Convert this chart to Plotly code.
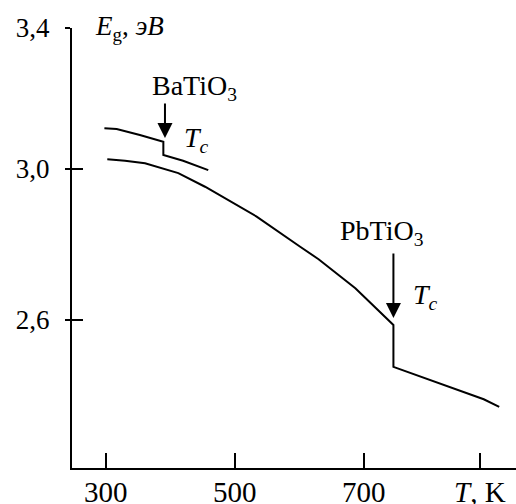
import plotly.graph_objects as go

# BaTiO3 curve (with step at Tc)
ba_T = [298, 317, 353, 389.4, 389.4, 420, 459]
ba_E = [3.108, 3.106, 3.090, 3.072, 3.037, 3.022, 2.997]

# PbTiO3 curve (with step at Tc)
pb_T = [302.5, 330, 361, 412.6, 454, 485, 534, 601.5, 630, 687, 746, 746, 886, 910]
pb_E = [3.0257, 3.022, 3.015, 2.989, 2.953, 2.922, 2.874, 2.794, 2.761, 2.684, 2.587, 2.476, 2.390, 2.370]

x_tickvals = [300, 500, 700, 880]
x_ticktext = ["300", "500", "700", "<i>T</i>, K"]
y_tickvals = [2.6, 3.0, 3.3735]
y_ticktext = ["2,6", "3,0", "3,4"]

x_range = [247.8, 936]
y_range = [2.208, 3.3735]

FONT = "Liberation Serif"

fig = go.Figure()
fig.add_trace(go.Scatter(x=pb_T, y=pb_E, mode="lines",
                         line=dict(color="black", width=2), hoverinfo="skip",
                         showlegend=False))
fig.add_trace(go.Scatter(x=ba_T, y=ba_E, mode="lines", yaxis="y2",
                         line=dict(color="black", width=2), hoverinfo="skip",
                         showlegend=False))

annos = [
    dict(x=391.9, y=3.082, ax=0, ay=-36, text="", showarrow=True,
         arrowhead=2, arrowsize=1.5, arrowwidth=2, arrowcolor="black", standoff=0),
    dict(x=746, y=2.605, ax=0, ay=-66, text="", showarrow=True,
         arrowhead=2, arrowsize=1.5, arrowwidth=2, arrowcolor="black", standoff=0),
    dict(x=438.4, y=3.2146, text="BaTiO<sub>3</sub>", showarrow=False,
         font=dict(family=FONT, size=28, color="black")),
    dict(x=440.8, y=3.077, text="<i>T</i><sub><i>c</i></sub>", showarrow=False,
         font=dict(family=FONT, size=28, color="black")),
    dict(x=727.6, y=2.833, text="PbTiO<sub>3</sub>", showarrow=False,
         font=dict(family=FONT, size=28, color="black")),
    dict(x=795, y=2.661, text="<i>T</i><sub><i>c</i></sub>", showarrow=False,
         font=dict(family=FONT, size=28, color="black")),
    dict(x=280.3, y=3.3735, xanchor="left", yanchor="middle",
         text="<i>E</i><sub>g</sub>, <i>эВ</i>", showarrow=False,
         font=dict(family=FONT, size=27, color="black")),
]

fig.update_layout(
    width=516, height=504,
    margin=dict(l=72, r=0, t=28, b=36),
    paper_bgcolor="white", plot_bgcolor="white",
    font=dict(family=FONT, size=28, color="black"),
    xaxis=dict(range=x_range, tickvals=x_tickvals, ticktext=x_ticktext,
               ticks="inside", ticklen=15, tickwidth=2, tickcolor="black",
               showline=True, linewidth=2, linecolor="black", automargin=False,
               showgrid=False, zeroline=False, ticklabelstandoff=-3,
               tickfont=dict(family=FONT, size=29, color="black")),
    yaxis=dict(range=y_range, tickvals=y_tickvals, ticktext=y_ticktext,
               ticks="outside", ticklen=5, tickwidth=2, tickcolor="black",
               showline=True, linewidth=2, linecolor="black", automargin=False,
               showgrid=False, zeroline=False, ticklabelstandoff=10,
               tickfont=dict(family=FONT, size=27, color="black")),
    yaxis2=dict(range=y_range, tickvals=y_tickvals, overlaying="y", side="left",
                ticks="inside", ticklen=11, tickwidth=2, tickcolor="black",
                automargin=False,
                showticklabels=False, showline=False, showgrid=False, zeroline=False),
    annotations=annos,
)

fig.write_html("out.html", config={"displayModeBar": False},
               post_script="document.body.style.margin='0';document.body.style.overflow='hidden';")
